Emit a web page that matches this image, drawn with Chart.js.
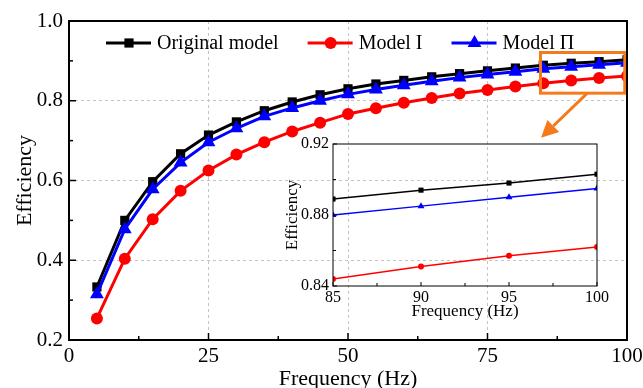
<!DOCTYPE html>
<html>
<head>
<meta charset="utf-8">
<script src="https://cdn.jsdelivr.net/npm/chart.js@4.4.0/dist/chart.umd.min.js"></script>
<style>
  body { margin: 0; background: #fff; }
  #wrap { position: relative; width: 643px; height: 388px; }
  #main { position: absolute; left: 0; top: 0; }
  #inset { position: absolute; left: 284px; top: 130px; }
</style>
</head>
<body>
<div id="wrap">
  <canvas id="main" width="643" height="388"></canvas>
  <canvas id="inset" width="326" height="190"></canvas>
</div>
<script>
// data
const frequency = [5, 10, 15, 20, 25, 30, 35, 40, 45, 50, 55, 60, 65, 70, 75, 80, 85, 90, 95, 100];
const originalModel = [0.333, 0.500, 0.597, 0.667, 0.714, 0.747, 0.775, 0.797, 0.815, 0.830,
                       0.842, 0.851, 0.860, 0.868, 0.875, 0.882, 0.889, 0.894, 0.898, 0.903];
const model1 = [0.254, 0.404, 0.503, 0.574, 0.625, 0.665, 0.696, 0.723, 0.745, 0.767,
                0.781, 0.795, 0.807, 0.818, 0.827, 0.836, 0.844, 0.851, 0.857, 0.862];
const model2 = [0.315, 0.478, 0.578, 0.645, 0.696, 0.731, 0.761, 0.782, 0.800, 0.816,
                0.828, 0.839, 0.849, 0.858, 0.866, 0.873, 0.880, 0.885, 0.890, 0.895];
const seriesNames = ['Original model', 'Model I', 'Model \u03A0'];
const insetFrom = 85;

// zoom box + arrow (data units of the main chart)
const zoomBox = { xMin: 84.5, xMax: 99.6, yMin: 0.819, yMax: 0.921 };
const arrowFrom = { x: 92.8, y: 0.818 };
const arrowTo = { x: 84.6, y: 0.707 };

const serif = "'Liberation Serif', 'Times New Roman', serif";
const orange = '#f57a1c';
Chart.defaults.font.family = serif;
Chart.defaults.color = '#000';

function points(vals, from) {
  return frequency.map((f, i) => ({ x: f, y: vals[i] })).filter(p => p.x >= from);
}

function makeSets(from, sizes, lw) {
  const styles = ['rect', 'circle', 'triangle'];
  const colors = ['#000000', '#ff0000', '#0000ff'];
  const vals = [originalModel, model1, model2];
  return vals.map((v, i) => ({
    label: seriesNames[i],
    data: points(v, from),
    borderColor: colors[i],
    backgroundColor: colors[i],
    pointBackgroundColor: colors[i],
    pointBorderWidth: 0,
    pointStyle: styles[i],
    pointRadius: sizes[i],
    borderWidth: lw,
    tension: 0,
    order: 3 - i
  }));
}

// frame + inward ticks
function frameTicks(id, lw, major, minor) {
  return {
    id: id,
    afterDraw(chart) {
      const ctx = chart.ctx, a = chart.chartArea;
      ctx.save();
      ctx.strokeStyle = '#000';
      ctx.lineWidth = lw;
      ctx.strokeRect(a.left, a.top, a.right - a.left, a.bottom - a.top);
      ctx.lineWidth = Math.max(1, lw - 0.5);
      const xs = chart.scales.x, ys = chart.scales.y;
      xs.ticks.forEach(t => {
        const p = xs.getPixelForValue(t.value);
        const len = t.label !== '' ? major : minor;
        ctx.beginPath(); ctx.moveTo(p, a.bottom); ctx.lineTo(p, a.bottom - len); ctx.stroke();
      });
      ys.ticks.forEach(t => {
        const p = ys.getPixelForValue(t.value);
        const len = t.label !== '' ? major : minor;
        ctx.beginPath(); ctx.moveTo(a.left, p); ctx.lineTo(a.left + len, p); ctx.stroke();
      });
      ctx.restore();
    }
  };
}

function drawMarker(ctx, style, x, y, r) {
  ctx.beginPath();
  if (style === 'rect') {
    const s = r * Math.SQRT1_2;
    ctx.rect(x - s, y - s, 2 * s, 2 * s);
  } else if (style === 'triangle') {
    let rad = 0;
    ctx.moveTo(x + Math.sin(rad) * r, y - Math.cos(rad) * r);
    rad += 2 * Math.PI / 3;
    ctx.lineTo(x + Math.sin(rad) * r, y - Math.cos(rad) * r);
    rad += 2 * Math.PI / 3;
    ctx.lineTo(x + Math.sin(rad) * r, y - Math.cos(rad) * r);
    ctx.closePath();
  } else {
    ctx.arc(x, y, r, 0, Math.PI * 2);
  }
  ctx.fill();
}

const legendPlugin = {
  id: 'lineLegend',
  afterDraw(chart) {
    const ctx = chart.ctx, a = chart.chartArea;
    const y = a.top + 22;
    let x = a.left + 37;
    ctx.save();
    ctx.font = '20px ' + serif;
    ctx.textBaseline = 'middle';
    chart.data.datasets.forEach(ds => {
      ctx.strokeStyle = ds.borderColor;
      ctx.fillStyle = ds.borderColor;
      ctx.lineWidth = ds.borderWidth;
      ctx.beginPath(); ctx.moveTo(x, y); ctx.lineTo(x + 45, y); ctx.stroke();
      drawMarker(ctx, ds.pointStyle, x + 23, y, ds.pointRadius);
      ctx.fillStyle = '#000';
      ctx.fillText(ds.label, x + 51, y + 1);
      x += 51 + ctx.measureText(ds.label).width + 29;
    });
    ctx.restore();
  }
};

const zoomPlugin = {
  id: 'zoomMark',
  afterDatasetsDraw(chart) {
    const ctx = chart.ctx, xs = chart.scales.x, ys = chart.scales.y;
    const x0 = xs.getPixelForValue(zoomBox.xMin), x1 = xs.getPixelForValue(zoomBox.xMax);
    const y0 = ys.getPixelForValue(zoomBox.yMax), y1 = ys.getPixelForValue(zoomBox.yMin);
    ctx.save();
    ctx.strokeStyle = orange;
    ctx.fillStyle = orange;
    ctx.lineWidth = 3;
    ctx.strokeRect(x0, y0, x1 - x0, y1 - y0);
    const ax = xs.getPixelForValue(arrowFrom.x), ay = ys.getPixelForValue(arrowFrom.y);
    const bx = xs.getPixelForValue(arrowTo.x), by = ys.getPixelForValue(arrowTo.y);
    const ang = Math.atan2(by - ay, bx - ax);
    const hl = 17, hw = 8.5;
    const cx = bx - Math.cos(ang) * hl, cy = by - Math.sin(ang) * hl;
    ctx.beginPath(); ctx.moveTo(ax, ay); ctx.lineTo(cx, cy); ctx.stroke();
    ctx.beginPath();
    ctx.moveTo(bx, by);
    ctx.lineTo(cx + Math.sin(ang) * hw, cy - Math.cos(ang) * hw);
    ctx.lineTo(cx - Math.sin(ang) * hw, cy + Math.cos(ang) * hw);
    ctx.closePath();
    ctx.fill();
    ctx.restore();
  }
};

const gridGray = '#c4c4c4';
const near = (v, list) => list.some(g => Math.abs(v - g) < 1e-6);

new Chart(document.getElementById('main'), {
  type: 'line',
  data: { datasets: makeSets(0, [6.5, 6, 8], 3) },
  options: {
    responsive: false,
    animation: false,
    layout: { padding: { top: 21, right: 16, left: 0, bottom: 0 } },
    plugins: { legend: { display: false }, tooltip: { enabled: false } },
    scales: {
      x: {
        type: 'linear', min: 0, max: 100,
        afterFit: s => { s.height = 48; s.paddingLeft = 0; s.paddingRight = 0; },
        ticks: {
          stepSize: 12.5, autoSkip: false, maxRotation: 0, padding: 4,
          font: { size: 21 }, color: '#000',
          callback: v => (Math.abs(v % 25) < 1e-6 ? String(v) : '')
        },
        grid: {
          drawTicks: false, lineWidth: 1,
          color: c => (c.tick && near(c.tick.value, [25, 50, 75]) ? gridGray : 'rgba(0,0,0,0)')
        },
        border: { display: false, dash: [3, 3] },
        title: { display: true, text: 'Frequency (Hz)', font: { size: 22, lineHeight: 1 }, color: '#000', padding: { top: 0, bottom: -2 } }
      },
      y: {
        min: 0.2, max: 1.0,
        afterFit: s => { s.width = 69; s.paddingTop = 0; s.paddingBottom = 0; },
        ticks: {
          stepSize: 0.1, autoSkip: false, padding: 6,
          font: { size: 21 }, color: '#000',
          callback: v => (Math.round(v * 10) % 2 === 0 ? v.toFixed(1) : '')
        },
        grid: {
          drawTicks: false, lineWidth: 1,
          color: c => (c.tick && near(c.tick.value, [0.4, 0.6, 0.8]) ? gridGray : 'rgba(0,0,0,0)')
        },
        border: { display: false, dash: [3, 3] },
        title: { display: true, text: 'Efficiency', font: { size: 22, lineHeight: 1 }, color: '#000', padding: { top: 14, bottom: 0 } }
      }
    }
  },
  plugins: [frameTicks('mainFrame', 2, 7, 4), legendPlugin, zoomPlugin]
});

new Chart(document.getElementById('inset'), {
  type: 'line',
  data: { datasets: makeSets(insetFrom, [3.6, 3, 4], 1.5) },
  options: {
    responsive: false,
    animation: false,
    layout: { padding: { top: 14, right: 13, left: 0, bottom: 0 } },
    plugins: { legend: { display: false }, tooltip: { enabled: false } },
    scales: {
      x: {
        type: 'linear', min: 85, max: 100,
        afterFit: s => { s.height = 34; s.paddingLeft = 0; s.paddingRight = 0; },
        ticks: {
          stepSize: 2.5, autoSkip: false, maxRotation: 0, padding: 2,
          font: { size: 16 }, color: '#000',
          callback: v => (Math.abs(v % 5) < 1e-6 ? String(v) : '')
        },
        grid: { display: true, drawTicks: false, color: 'rgba(0,0,0,0)' },
        border: { display: false },
        title: { display: true, text: 'Frequency (Hz)', font: { size: 17, lineHeight: 1 }, color: '#000', padding: 0 }
      },
      y: {
        min: 0.84, max: 0.92,
        afterFit: s => { s.width = 49; s.paddingTop = 0; s.paddingBottom = 0; },
        ticks: {
          stepSize: 0.02, autoSkip: false, padding: 4,
          font: { size: 16 }, color: '#000',
          callback: v => (Math.round(v * 100) % 4 === 0 ? v.toFixed(2) : '')
        },
        grid: { display: true, drawTicks: false, color: 'rgba(0,0,0,0)' },
        border: { display: false },
        title: { display: true, text: 'Efficiency', font: { size: 17, lineHeight: 1 }, color: '#000', padding: { top: 0, bottom: 0 } }
      }
    }
  },
  plugins: [frameTicks('insetFrame', 1, 4, 3)]
});
</script>
</body>
</html>
